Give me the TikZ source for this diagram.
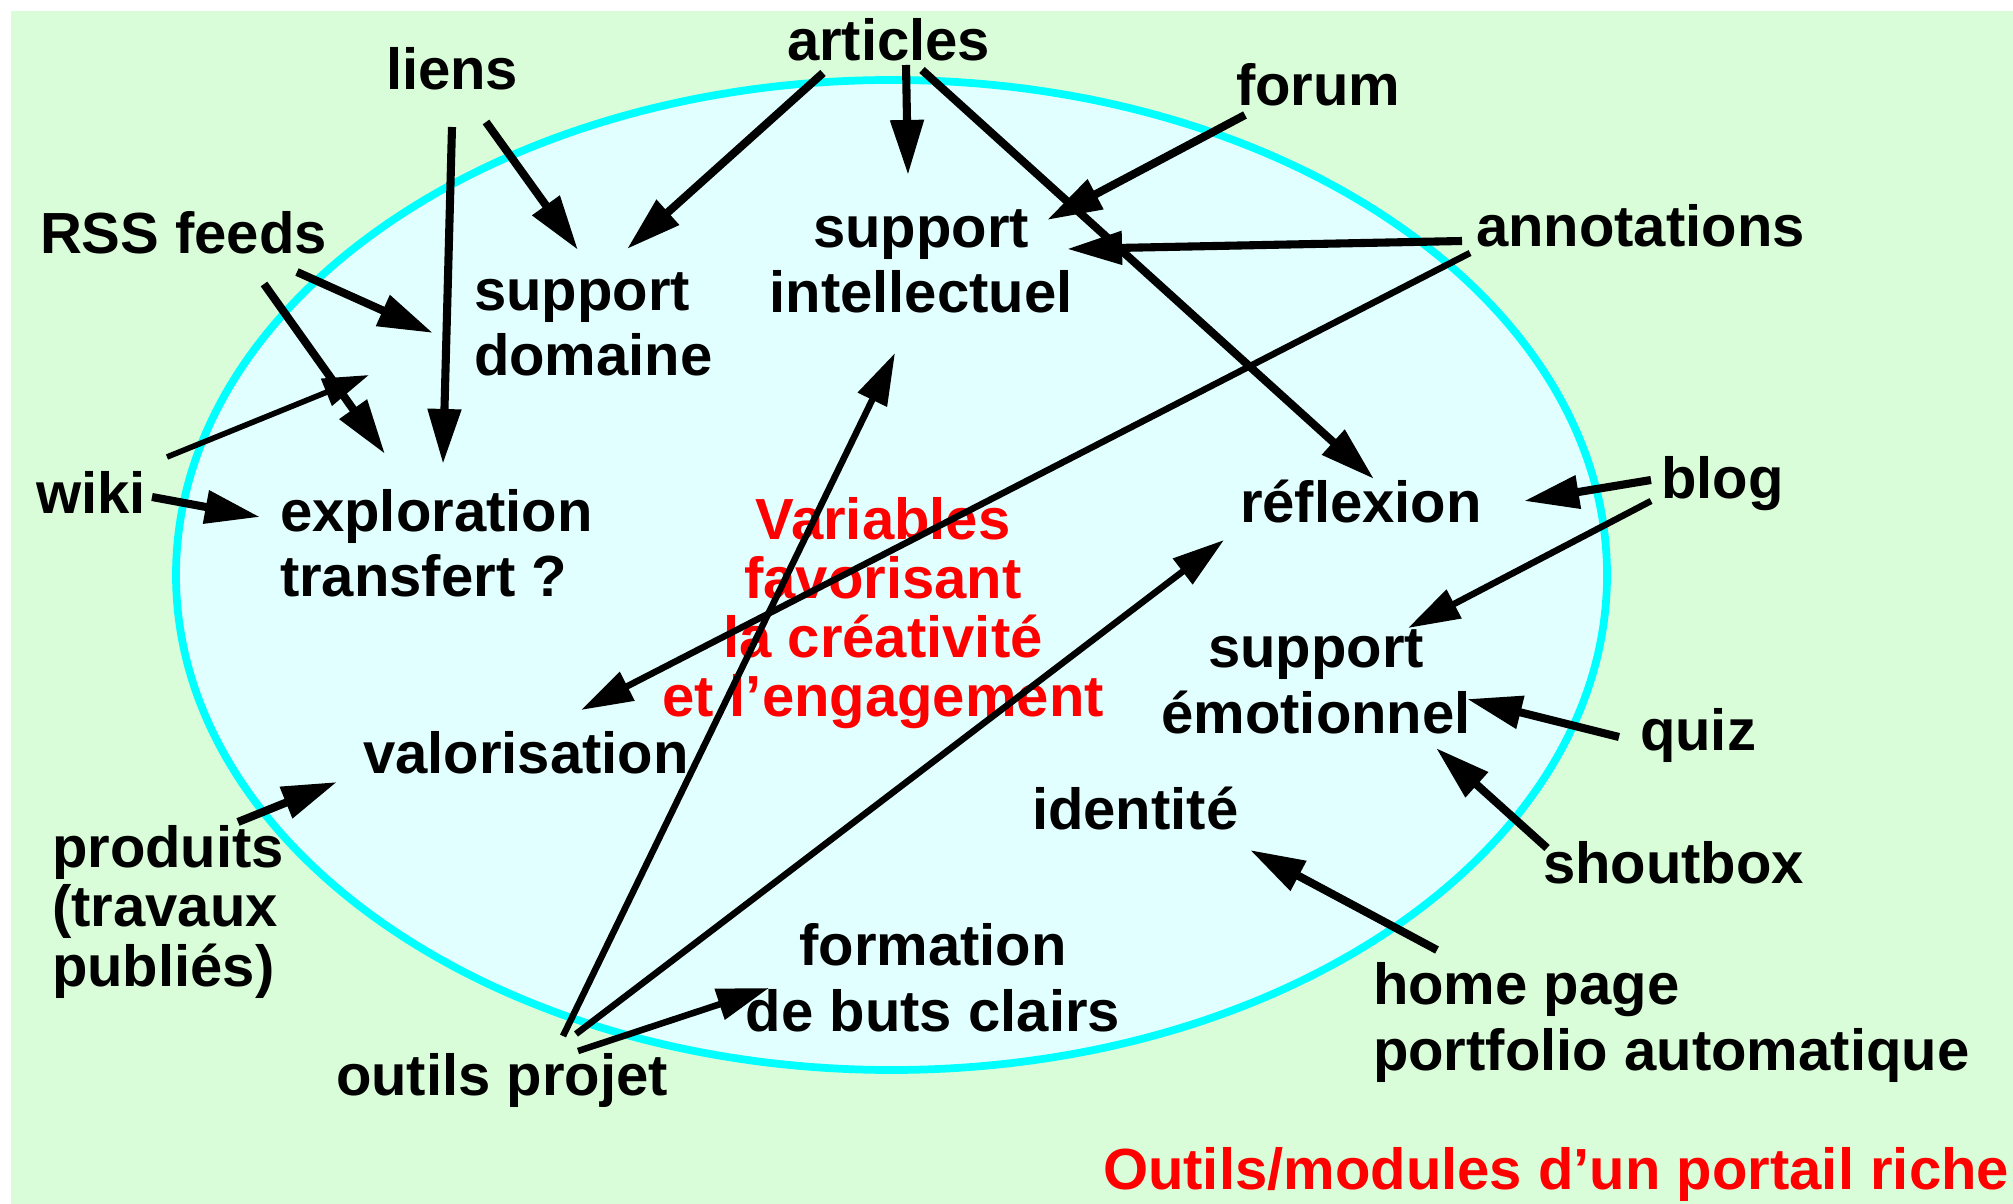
\documentclass[tikz,border=0pt]{standalone}
\usepackage{fontspec}
\setmainfont{Liberation Sans}
\usetikzlibrary{arrows.meta}
\definecolor{bggreen}{RGB}{217,253,217}
\definecolor{ovalfill}{RGB}{226,255,255}
\definecolor{ovalline}{RGB}{0,255,255}
\begin{document}
\begin{tikzpicture}[x=0.01cm,y=-0.01cm,
  lbl/.style={inner sep=0pt, outer sep=0pt,
    font=\fontsize{16.5pt}{18.7pt}\selectfont\bfseries},
  tight/.style={font=\fontsize{16.5pt}{16.8pt}\selectfont\bfseries},
  arr/.style={line width=2.3pt, -{Triangle[length=0.55cm,width=0.32cm]}},
  arrthin/.style={line width=1.85pt, -{Triangle[length=0.52cm,width=0.31cm]}},
  arrfine/.style={line width=1.6pt, -{Triangle[length=0.46cm,width=0.28cm]}}]

% page and backdrop
\useasboundingbox (0,0) rectangle (2013,1204);
\fill[white] (0,0) rectangle (2013,1204);
\fill[bggreen] (11,11) rectangle (2013,1204);
\filldraw[fill=ovalfill, draw=ovalline, line width=2.2pt]
  (891.5,575) ellipse [x radius=715.5, y radius=495];

% tools around the portal (multi-line nodes sit on their last baseline)
\node[lbl, anchor=base west] (liens) at (386,90) {liens};
\node[lbl, anchor=base west] (articles) at (787,61) {articles};
\node[lbl, anchor=base west] (forum) at (1236,106) {forum};
\node[lbl, anchor=base west] (annotations) at (1476,247) {annotations};
\node[lbl, anchor=base west] (rss) at (40,254) {RSS feeds};
\node[lbl, anchor=base west] (wiki) at (36,514) {wiki};
\node[lbl, anchor=base west] (blog) at (1661,499) {blog};
\node[lbl, anchor=base west] (quiz) at (1640,751) {quiz};
\node[lbl, anchor=base west] (shoutbox) at (1543,883) {shoutbox};
\node[lbl, anchor=base west, align=left] (homepage) at (1373,1070) {home page\\portfolio automatique};
\node[lbl, tight, anchor=base west, align=left] (produits) at (52,986) {produits\\(travaux\\publiés)};
\node[lbl, anchor=base west] (outils) at (336,1095) {outils projet};

% effects inside the oval
\node[lbl, anchor=base west, align=left] (domaine) at (474,376) {support\\domaine};
\node[lbl, anchor=base, align=center] (intellectuel) at (921,313) {support\\intellectuel};
\node[lbl, anchor=base west, align=left] (exploration) at (280,597) {exploration\\transfert ?};
\node[lbl, anchor=base west] (reflexion) at (1240,523) {réflexion};
\node[lbl, anchor=base, align=center] (emotionnel) at (1316,733) {support\\émotionnel};
\node[lbl, anchor=base west] (identite) at (1032,829) {identité};
\node[lbl, anchor=base west] (valorisation) at (363,774) {valorisation};
\node[lbl, anchor=base, align=center] (formation) at (933,1031) {formation\\de buts clairs};
\node[lbl, tight, text=red, anchor=base, align=center] (variables) at (883,717)
  {Variables\\favorisant\\la créativité\\et l’engagement};
\node[lbl, text=red, anchor=base west] (titre) at (1103,1189) {Outils/modules d’un portail riche};

% connectors
\draw[arr] ([shift={(66,37)}]liens.base west) -- ([shift={(163,-133)}]exploration.base west);
\draw[arr] ([shift={(100,32)}]liens.base west) -- ([shift={(104,-126)}]domaine.base west);
\draw[arr] ([shift={(36,12)}]articles.base west) -- ([shift={(153,-127)}]domaine.base west);
\draw[arr] ([shift={(119,4)}]articles.base west) -- ([shift={(-13,-138)}]intellectuel.base);
\draw[arr] ([shift={(135,9)}]articles.base west) -- ([shift={(134,-44)}]reflexion.base west);
\draw[arr] ([shift={(9,9)}]forum.base west) -- ([shift={(126,-93)}]intellectuel.base);
\draw[arr] ([shift={(-14,-6)}]annotations.base west) -- ([shift={(146,-64)}]intellectuel.base);
\draw[arrthin] ([shift={(-6,6)}]annotations.base west) -- ([shift={(218,-64)}]valorisation.base west);
\draw[arr] ([shift={(257,18)}]rss.base west) -- ([shift={(-41,-43)}]domaine.base west);
\draw[arr] ([shift={(224,30)}]rss.base west) -- ([shift={(105,-143)}]exploration.base west);
\draw[arrfine] ([shift={(131,-57)}]wiki.base west) -- ([shift={(-105,-1)}]domaine.base west);
\draw[arr] ([shift={(116,-17)}]wiki.base west) -- ([shift={(-20,-80)}]exploration.base west);
\draw[arr] ([shift={(-10,-19)}]blog.base west) -- ([shift={(284,-22)}]reflexion.base west);
\draw[arrthin] ([shift={(-10,2)}]blog.base west) -- ([shift={(92,-105)}]emotionnel.base);
\draw[arr] ([shift={(-21,-14)}]quiz.base west) -- ([shift={(151,-34)}]emotionnel.base);
\draw[arr] ([shift={(4,-35)}]shoutbox.base west) -- ([shift={(120,15)}]emotionnel.base);
\draw[arr] ([shift={(64,-120)}]homepage.base west) -- ([shift={(218,21)}]identite.base west);
\draw[arr] ([shift={(186,-164)}]produits.base west) -- ([shift={(-26,8)}]valorisation.base west);
\draw[arrthin] ([shift={(227,-59)}]outils.base west) -- ([shift={(-26,40)}]intellectuel.base);
\draw[arrthin] ([shift={(240,-61)}]outils.base west) -- ([shift={(-16,17)}]reflexion.base west);
\draw[arrthin] ([shift={(242,-44)}]outils.base west) -- ([shift={(-164,-43)}]formation.base);
\end{tikzpicture}
\end{document}
